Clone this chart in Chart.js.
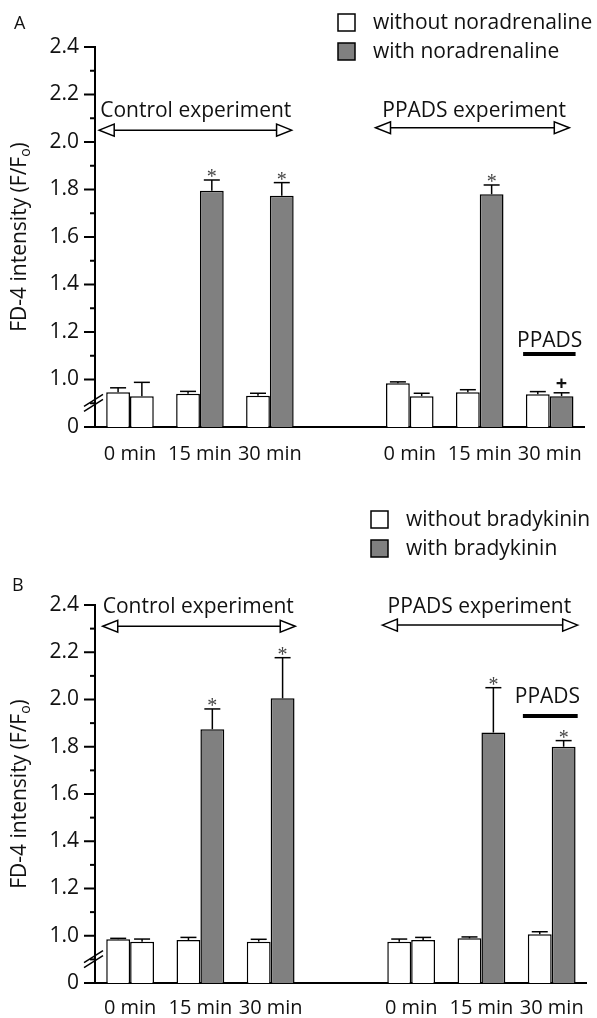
<!DOCTYPE html>
<html>
<head>
<meta charset="utf-8">
<script src="https://cdn.jsdelivr.net/npm/chart.js@4.4.1/dist/chart.umd.min.js"></script>
<style>
  html, body { margin: 0; padding: 0; background: #fff; }
  body { width: 597px; height: 1018px; position: relative; overflow: hidden; }
  .panel { position: absolute; left: 0; width: 597px; }
  #panelA { top: 0; height: 475px; }
  #panelB { top: 475px; height: 543px; }
</style>
</head>
<body>
<div class="panel" id="panelA"><canvas id="chartA"></canvas></div>
<div class="panel" id="panelB"><canvas id="chartB"></canvas></div>
<script>
// categories (empty slot separates control and PPADS experiments)
var categories = ["0 min", "15 min", "30 min", "", "0 min", "15 min", "30 min"];
var agonistGiven = [false, true, true, false, false, true, true];

// y axis: bottom value is shown as "0" (broken axis)
var yMin = 0.8, yMax = 2.4;

// panel A - noradrenaline
var withoutNA    = [0.946, 0.940, 0.932, null, 0.984, 0.946, 0.938];
var withoutNAErr = [0.019, 0.010, 0.010, null, 0.006, 0.011, 0.011];
var withNA       = [0.930, 1.795, 1.774, null, 0.930, 1.780, 0.930];
var withNAErr    = [0.058, 0.045, 0.055, null, 0.012, 0.039, 0.014];
var withNAMarks  = ["", "*", "*", "", "", "*", "+"];

// panel B - bradykinin
var withoutBK    = [0.985, 0.982, 0.975, null, 0.975, 0.989, 1.006];
var withoutBKErr = [0.004, 0.011, 0.010, null, 0.011, 0.006, 0.011];
var withBK       = [0.975, 1.874, 2.005, null, 0.982, 1.860, 1.800];
var withBKErr    = [0.011, 0.086, 0.172, null, 0.011, 0.190, 0.026];
var withBKMarks  = ["", "*", "*", "", "", "*", "*"];

var FONT = "'Open Sans', sans-serif";
var GREY = "#808080";
var INK = "#111";

function line(ctx, x1, y1, x2, y2) {
    ctx.beginPath();
    ctx.moveTo(x1, y1);
    ctx.lineTo(x2, y2);
    ctx.stroke();
}

function head(ctx, x, y, dir) {
    ctx.beginPath();
    ctx.moveTo(x, y);
    ctx.lineTo(x - dir * 15, y - 6);
    ctx.lineTo(x - dir * 15, y + 6);
    ctx.closePath();
    ctx.fillStyle = "#fff";
    ctx.fill();
    ctx.stroke();
}

var extras = {
    id: "extras",
    afterDraw: function (chart, args, o) {
        var ctx = chart.ctx, xs = chart.scales.x, ys = chart.scales.y;
        var left = chart.chartArea.left;
        ctx.save();
        ctx.strokeStyle = "#000";
        ctx.fillStyle = INK;
        ctx.lineWidth = 2;

        // y ticks: long at labelled values, short in between
        ys.ticks.forEach(function (t) {
            var py = ys.getPixelForValue(t.value);
            var len = Math.round(t.value * 10) % 2 ? 5 : 11;
            line(ctx, left - len, py, left, py);
        });

        // axis break marks
        var by = ys.getPixelForValue(o.breakAt);
        ctx.lineWidth = 1.5;
        line(ctx, left - 11, by + 2, left + 8, by - 10);
        line(ctx, left - 11, by + 7, left + 8, by - 5);

        // error bars and significance marks
        chart.data.datasets.forEach(function (ds, di) {
            var meta = chart.getDatasetMeta(di);
            meta.data.forEach(function (bar, i) {
                if (ds.data[i] == null) return;
                var top = ys.getPixelForValue(ds.data[i] + ds.errors[i]);
                ctx.lineWidth = 1.5;
                ctx.strokeStyle = "#000";
                line(ctx, bar.x, bar.y, bar.x, top);
                line(ctx, bar.x - 8, top, bar.x + 8, top);
                var mark = ds.marks[i];
                if (mark === "*") {
                    ctx.fillStyle = "#444";
                    ctx.font = "20px 'Liberation Serif', serif";
                    ctx.textAlign = "center";
                    ctx.textBaseline = "alphabetic";
                    ctx.fillText("*", bar.x, top + 3);
                } else if (mark === "+") {
                    ctx.fillStyle = INK;
                    ctx.font = "bold 20px " + FONT;
                    ctx.textAlign = "center";
                    ctx.textBaseline = "alphabetic";
                    ctx.fillText("+", bar.x, top - 3);
                }
            });
        });

        // experiment spans with double arrows
        ctx.font = "21px " + FONT;
        ctx.textAlign = "center";
        ctx.textBaseline = "middle";
        o.spans.forEach(function (s) {
            var x1 = xs.getPixelForValue(s.from), x2 = xs.getPixelForValue(s.to);
            var py = ys.getPixelForValue(s.y);
            ctx.lineWidth = 1.5;
            ctx.strokeStyle = "#000";
            line(ctx, x1 + 14, py, x2 - 14, py);
            head(ctx, x1, py, -1);
            head(ctx, x2, py, 1);
            ctx.fillStyle = INK;
            ctx.fillText(s.text, xs.getPixelForValue(s.textX), ys.getPixelForValue(s.textY));
        });

        // PPADS treatment bar
        var p = o.ppads;
        ctx.lineWidth = 4;
        line(ctx, xs.getPixelForValue(p.from), ys.getPixelForValue(p.y), xs.getPixelForValue(p.to), ys.getPixelForValue(p.y));
        ctx.fillStyle = INK;
        ctx.fillText("PPADS", xs.getPixelForValue(p.textX), ys.getPixelForValue(p.textY));

        // legend
        var lg = o.legend;
        ctx.lineWidth = 1.5;
        ctx.textAlign = "left";
        chart.data.datasets.forEach(function (ds, di) {
            var sy = lg.y + di * 29;
            ctx.fillStyle = di ? GREY : "#fff";
            ctx.fillRect(lg.x, sy, 17, 17);
            ctx.strokeRect(lg.x, sy, 17, 17);
            ctx.fillStyle = INK;
            ctx.fillText(ds.label, lg.x + 35, sy + 9);
        });

        // panel letter
        ctx.font = "18px " + FONT;
        ctx.fillText(o.letter, o.letterX, o.letterY);

        // y axis title with subscript
        var mid = (chart.chartArea.top + chart.chartArea.bottom) / 2;
        var main = "FD-4 intensity (F/F", sub = "o", end = ")";
        ctx.font = "21px " + FONT;
        var w1 = ctx.measureText(main).width, w3 = ctx.measureText(end).width;
        ctx.font = "14px " + FONT;
        var w2 = ctx.measureText(sub).width;
        ctx.translate(26, mid);
        ctx.rotate(-Math.PI / 2);
        ctx.textBaseline = "alphabetic";
        var sx = -(w1 + w2 + w3) / 2;
        ctx.font = "21px " + FONT;
        ctx.fillText(main, sx, 0);
        ctx.font = "14px " + FONT;
        ctx.fillText(sub, sx + w1, 4);
        ctx.font = "21px " + FONT;
        ctx.fillText(end, sx + w1 + w2, 0);
        ctx.restore();
    }
};

function buildPanel(canvasId, cfg) {
    return new Chart(document.getElementById(canvasId).getContext("2d"), {
        type: "bar",
        data: {
            labels: categories,
            datasets: [{
                label: cfg.names[0],
                data: cfg.without,
                errors: cfg.withoutErr,
                marks: [],
                backgroundColor: "#fff"
            }, {
                label: cfg.names[1],
                data: cfg.with,
                errors: cfg.withErr,
                marks: cfg.marks,
                backgroundColor: agonistGiven.map(function (g) { return g ? GREY : "#fff"; })
            }]
        },
        options: {
            responsive: true,
            maintainAspectRatio: false,
            animation: false,
            layout: { padding: { top: cfg.top, right: 5, left: 0, bottom: 0 } },
            datasets: {
                bar: {
                    categoryPercentage: 0.68,
                    barPercentage: 1,
                    borderColor: "#000",
                    borderWidth: 1.5,
                    borderSkipped: false
                }
            },
            plugins: {
                legend: { display: false },
                tooltip: { enabled: false },
                extras: cfg.extras
            },
            scales: {
                x: {
                    offset: true,
                    grid: { display: false, drawTicks: false },
                    border: { display: true, color: "#000", width: 2 },
                    ticks: { color: INK, font: { family: FONT, size: 20 }, padding: cfg.labelPad, autoSkip: false, maxRotation: 0 },
                    afterFit: function (s) { s.height = cfg.xHeight; }
                },
                y: {
                    min: yMin,
                    max: yMax,
                    grid: { display: false, drawTicks: false },
                    border: { display: true, color: "#000", width: 2 },
                    ticks: {
                        stepSize: 0.1,
                        autoSkip: false,
                        padding: 16,
                        color: INK,
                        font: { family: FONT, size: 21 },
                        callback: function (v) {
                            var k = Math.round(v * 10);
                            if (k % 2) return "";
                            if (k === 8) return "0";
                            return (k / 10).toFixed(1);
                        }
                    },
                    afterFit: function (s) { s.width = 95; }
                }
            }
        },
        plugins: [extras]
    });
}

buildPanel("chartA", {
    names: ["without noradrenaline", "with noradrenaline"],
    without: withoutNA, withoutErr: withoutNAErr,
    with: withNA, withErr: withNAErr, marks: withNAMarks,
    top: 47, xHeight: 48, labelPad: 15,
    extras: {
        breakAt: 0.895,
        spans: [
            { text: "Control experiment", from: -0.44, to: 2.31, y: 2.05, textX: 0.94, textY: 2.13 },
            { text: "PPADS experiment", from: 3.51, to: 6.28, y: 2.06, textX: 4.92, textY: 2.13 }
        ],
        ppads: { from: 5.62, to: 6.37, y: 1.107, textX: 6.0, textY: 1.16 },
        legend: { x: 338, y: 14 },
        letter: "A", letterX: 14, letterY: 24
    }
});

buildPanel("chartB", {
    names: ["without bradykinin", "with bradykinin"],
    without: withoutBK, withoutErr: withoutBKErr,
    with: withBK, withErr: withBKErr, marks: withBKMarks,
    top: 130, xHeight: 35, labelPad: 13,
    extras: {
        breakAt: 0.895,
        spans: [
            { text: "Control experiment", from: -0.39, to: 2.35, y: 2.31, textX: 0.97, textY: 2.39 },
            { text: "PPADS experiment", from: 3.59, to: 6.37, y: 2.315, textX: 4.97, textY: 2.39 }
        ],
        ppads: { from: 5.59, to: 6.37, y: 1.93, textX: 5.94, textY: 2.01 },
        legend: { x: 371, y: 36 },
        letter: "B", letterX: 12, letterY: 111
    }
});
</script>
</body>
</html>
